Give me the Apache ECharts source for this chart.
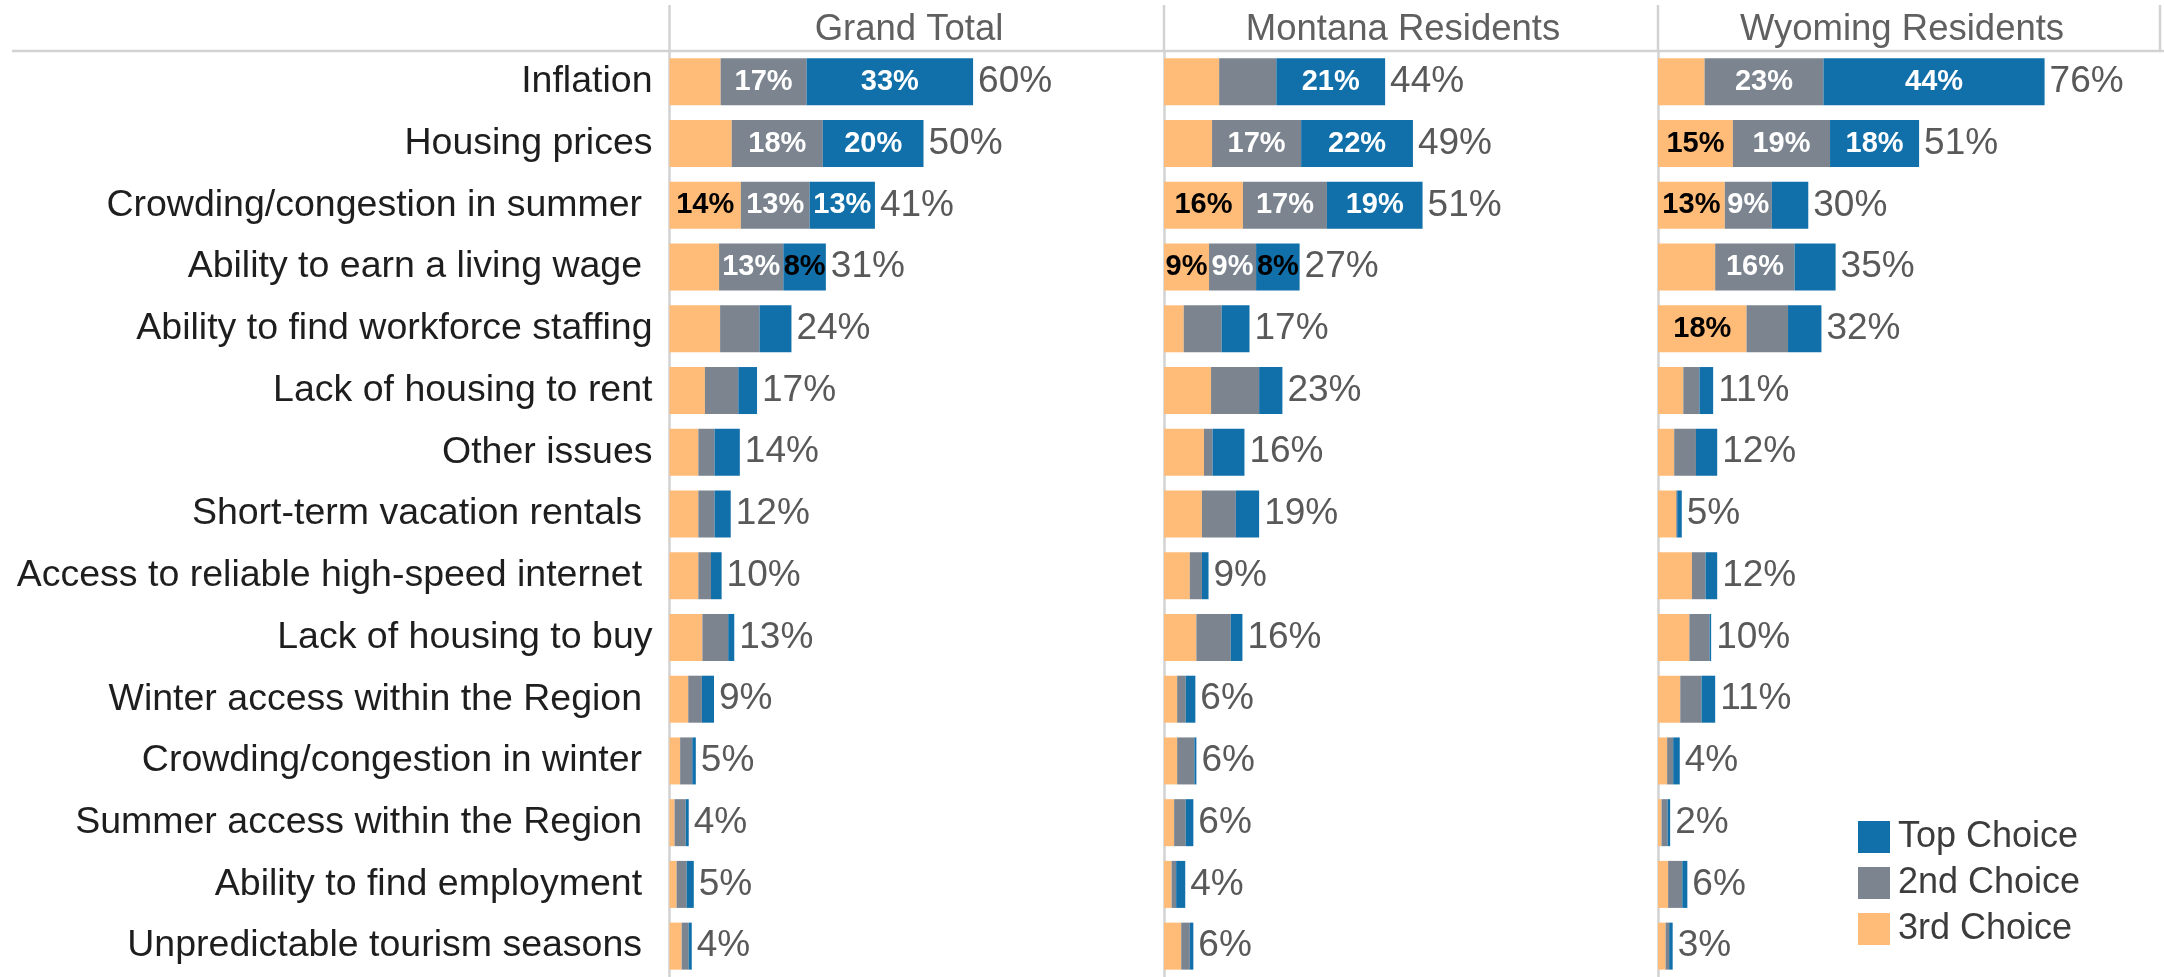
<!DOCTYPE html>
<html>
<head>
<meta charset="utf-8">
<title>Top issues by choice</title>
<script src="https://cdn.jsdelivr.net/npm/echarts@6/dist/echarts.min.js"></script>
<style>
  html, body { margin: 0; padding: 0; background: #fff; }
  #chart { width: 2164px; height: 977px; }
</style>
</head>
<body>
<div id="chart"></div>
<script>
// categories, top to bottom (trailing spaces kept as in the source labels)
const categories = [
  'Inflation', 'Housing prices', 'Crowding/congestion in summer ', 'Ability to earn a living wage ',
  'Ability to find workforce staffing', 'Lack of housing to rent', 'Other issues',
  'Short-term vacation rentals ', 'Access to reliable high-speed internet ', 'Lack of housing to buy',
  'Winter access within the Region ', 'Crowding/congestion in winter ', 'Summer access within the Region ',
  'Ability to find employment ', 'Unpredictable tourism seasons '
];
const seriesNames = ['3rd Choice', '2nd Choice', 'Top Choice'];

// Grand Total
const gtThird  = [10.1, 12.3, 14.1, 9.8, 10.0, 7.0, 5.7, 5.7, 5.7, 6.5, 3.7, 2.1, 1.0, 1.4, 2.4];
const gtSecond = [17.0, 18.0, 13.6, 12.7, 7.8, 6.6, 3.2, 3.2, 2.5, 5.1, 2.7, 2.4, 2.2, 2.0, 1.4];
const gtTop    = [32.9, 19.9, 12.9, 8.4, 6.3, 3.7, 5.0, 3.2, 2.1, 1.2, 2.4, 0.7, 0.6, 1.4, 0.6];
const gtTotal  = [60, 50, 41, 31, 24, 17, 14, 12, 10, 13, 9, 5, 4, 5, 4];
const gtThirdLbl  = [null, null, 14];
const gtSecondLbl = [17, 18, 13, 13];
const gtTopLbl    = [33, 20, 13, 8];

// Montana Residents
const mtThird  = [10.9, 9.5, 15.6, 8.9, 3.9, 9.3, 7.9, 7.5, 5.1, 6.4, 2.6, 2.6, 2.0, 1.5, 3.4];
const mtSecond = [11.3, 17.6, 16.6, 9.3, 7.5, 9.5, 1.7, 6.7, 2.4, 6.8, 1.7, 3.4, 2.3, 0.9, 1.7];
const mtTop    = [21.5, 22.1, 18.9, 8.6, 5.5, 4.6, 6.3, 4.6, 1.3, 2.3, 1.9, 0.4, 1.5, 1.8, 0.7];
const mtTotal  = [44, 49, 51, 27, 17, 23, 16, 19, 9, 16, 6, 6, 6, 4, 6];
const mtThirdLbl  = [null, null, 16, 9];
const mtSecondLbl = [null, 17, 17, 9];
const mtTopLbl    = [21, 22, 19, 8];

// Wyoming Residents
const wyThird  = [9.2, 14.8, 13.2, 11.3, 17.5, 5.0, 3.2, 3.6, 6.7, 6.2, 4.4, 1.8, 0.7, 2.0, 1.5];
const wySecond = [23.5, 19.2, 9.3, 15.7, 8.2, 3.2, 4.3, 0.2, 2.7, 4.0, 4.2, 1.2, 1.2, 2.8, 0.7];
const wyTop    = [43.7, 17.6, 7.2, 8.1, 6.6, 2.7, 4.2, 0.9, 2.3, 0.3, 2.7, 1.3, 0.5, 1.0, 0.7];
const wyTotal  = [76, 51, 30, 35, 32, 11, 12, 5, 12, 10, 11, 4, 2, 6, 3];
const wyThirdLbl  = [null, 15, 13, null, 18];
const wySecondLbl = [23, 19, 9, 16];
const wyTopLbl    = [44, 18];

const panels = [
  { title: 'Grand Total', values: [gtThird, gtSecond, gtTop], labels: [gtThirdLbl, gtSecondLbl, gtTopLbl], total: gtTotal },
  { title: 'Montana Residents', values: [mtThird, mtSecond, mtTop], labels: [mtThirdLbl, mtSecondLbl, mtTopLbl], total: mtTotal },
  { title: 'Wyoming Residents', values: [wyThird, wySecond, wyTop], labels: [wyThirdLbl, wySecondLbl, wyTopLbl], total: wyTotal }
];

const colors = ['#ffbc79', '#7b848f', '#1170aa'];
const lineColor = '#d2d2d2';
const gridLefts = [669.5, 1164, 1658];
const gridWidth = 506;
const titleCenters = [909, 1403, 1902];
const fontFamily = '"Liberation Sans", Arial, sans-serif';

const chart = echarts.init(document.getElementById('chart'));

const grids = [], xAxes = [], yAxes = [], series = [], titles = [];

panels.forEach((p, pi) => {
  grids.push({ left: gridLefts[pi], top: 51, width: gridWidth, height: 929 });
  xAxes.push({ type: 'value', gridIndex: pi, min: 0, max: 100, show: false });
  yAxes.push({
    type: 'category',
    gridIndex: pi,
    data: categories,
    inverse: true,
    axisTick: { show: false },
    axisLine: { show: true, lineStyle: { color: lineColor, width: 2.5 } },
    axisLabel: {
      show: pi === 0,
      margin: 17,
      fontSize: 37.5,
      color: '#1e1e1e',
      fontFamily
    }
  });
  titles.push({
    text: p.title,
    left: titleCenters[pi],
    top: 11,
    padding: 0,
    textAlign: 'center',
    textStyle: { fontSize: 36.5, fontWeight: 'normal', color: '#606060', fontFamily }
  });

  p.values.forEach((vals, si) => {
    const lbls = p.labels[si];
    series.push({
      name: seriesNames[si],
      type: 'bar',
      stack: 'p' + pi,
      xAxisIndex: pi,
      yAxisIndex: pi,
      barWidth: 47,
      itemStyle: { color: colors[si] },
      data: vals.map((v, i) => {
        const l = lbls[i];
        const item = { value: v };
        if (l != null) {
          let c = '#fff';
          if (si === 0 || (si === 2 && l < 10)) c = '#000';
          item.label = {
            show: true,
            position: 'inside',
            formatter: l + '%',
            color: c,
            fontSize: 29,
            fontWeight: 'bold',
            fontFamily
          };
        }
        return item;
      }),
      label: { show: false },
      emphasis: { disabled: true }
    });
  });

  // zero-width bar at the end of the stack carries the total label
  series.push({
    name: 'total',
    type: 'bar',
    stack: 'p' + pi,
    xAxisIndex: pi,
    yAxisIndex: pi,
    barWidth: 47,
    itemStyle: { color: 'rgba(0,0,0,0)' },
    data: p.total.map(() => 0),
    label: {
      show: true,
      position: 'right',
      distance: 5,
      formatter: (d) => p.total[d.dataIndex] + '%',
      color: '#595959',
      fontSize: 37,
      fontFamily
    },
    emphasis: { disabled: true }
  });
});

const option = {
  backgroundColor: '#fff',
  animation: false,
  title: titles,
  grid: grids,
  xAxis: xAxes,
  yAxis: yAxes,
  legend: {
    data: ['Top Choice', '2nd Choice', '3rd Choice'],
    orient: 'vertical',
    left: 1853,
    top: 814,
    itemWidth: 32,
    itemHeight: 32,
    itemGap: 10,
    icon: 'rect',
    textStyle: { fontSize: 36, color: '#3c3c3c', fontFamily, lineHeight: 36, padding: [0, 0, 0, 3] },
    selectedMode: false
  },
  graphic: [
    { type: 'line', shape: { x1: 12, y1: 51, x2: 2164, y2: 51 }, style: { stroke: lineColor, lineWidth: 2.5 } },
    { type: 'line', shape: { x1: 669.5, y1: 5, x2: 669.5, y2: 51 }, style: { stroke: lineColor, lineWidth: 2.5 } },
    { type: 'line', shape: { x1: 1164, y1: 5, x2: 1164, y2: 51 }, style: { stroke: lineColor, lineWidth: 2.5 } },
    { type: 'line', shape: { x1: 1658, y1: 5, x2: 1658, y2: 51 }, style: { stroke: lineColor, lineWidth: 2.5 } },
    { type: 'line', shape: { x1: 2160, y1: 5, x2: 2160, y2: 51 }, style: { stroke: lineColor, lineWidth: 2.5 } }
  ],
  series
};

chart.setOption(option);
</script>
</body>
</html>
